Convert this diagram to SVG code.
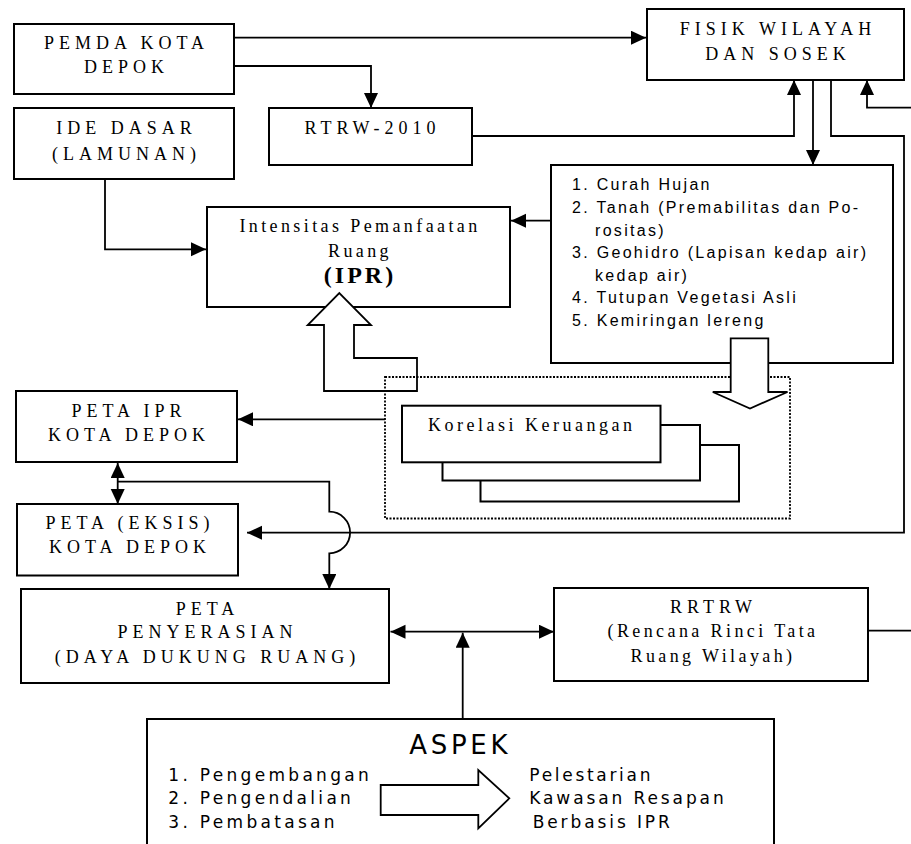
<svg xmlns="http://www.w3.org/2000/svg" width="911" height="844" viewBox="0 0 911 844">
<style>
  .box{fill:#fff;stroke:#000;stroke-width:2}
  .ln{fill:none;stroke:#000;stroke-width:1.8}
  .dot{fill:none;stroke:#000;stroke-width:1.8;stroke-dasharray:2 1.5}
  .hollow{fill:#fff;stroke:#000;stroke-width:1.8;stroke-linejoin:miter}
  .sc{font-family:"Liberation Serif","Times New Roman",serif;font-size:18px;letter-spacing:5px;text-anchor:middle;fill:#000}
  .sl{font-family:"Liberation Serif","Times New Roman",serif;font-size:18px;letter-spacing:3.4px;text-anchor:middle;fill:#000}
  .ls{font-family:"Liberation Sans",Arial,sans-serif;font-size:16px;letter-spacing:2.3px;fill:#000}
  .dv{font-family:"DejaVu Sans",Verdana,sans-serif;font-size:17px;letter-spacing:3.3px;fill:#000}
</style>
<defs>
  <marker id="ah" markerUnits="userSpaceOnUse" markerWidth="16" markerHeight="16" refX="15" refY="7" orient="auto-start-reverse" viewBox="0 0 16 16">
    <path d="M0,0 L15,7 L0,14 z" fill="#000"/>
  </marker>
</defs>

<g id="pemda">
  <rect class="box" x="14" y="24" width="220" height="70"/>
  <text class="sc" x="126.5" y="49">PEMDA KOTA</text>
  <text class="sc" x="126.5" y="73">DEPOK</text>
</g>
<g id="ide-dasar">
  <rect class="box" x="14" y="108" width="220" height="71"/>
  <text class="sc" x="126.5" y="134">IDE DASAR</text>
  <text class="sc" x="126.5" y="159.5">(LAMUNAN)</text>
</g>
<g id="rtrw">
  <rect class="box" x="269" y="108" width="203" height="57"/>
  <text class="sc" x="372.5" y="133.5">RTRW-2010</text>
</g>
<g id="fisik">
  <rect class="box" x="647" y="9" width="257" height="71"/>
  <text class="sc" x="778" y="34.5">FISIK WILAYAH</text>
  <text class="sc" x="778" y="59.5">DAN SOSEK</text>
</g>
<g id="ipr">
  <rect class="box" x="207" y="207" width="303" height="100"/>
  <text class="sl" x="360" y="231.7">Intensitas Pemanfaatan</text>
  <text class="sl" x="360" y="256.7">Ruang</text>
  <text class="sl" x="360" y="283" style="font-size:24px;font-weight:bold;letter-spacing:3px">(IPR)</text>
</g>
<g id="kriteria">
  <rect class="box" x="551" y="165" width="342" height="198"/>
  <text class="ls" x="572" y="190">1. Curah Hujan</text>
  <text class="ls" x="572" y="213">2. Tanah (Premabilitas dan Po-</text>
  <text class="ls" x="595" y="235.5">rositas)</text>
  <text class="ls" x="572" y="258.3">3. Geohidro (Lapisan kedap air)</text>
  <text class="ls" x="595" y="280.7">kedap air)</text>
  <text class="ls" x="572" y="303.3">4. Tutupan Vegetasi Asli</text>
  <text class="ls" x="572" y="325.7">5. Kemiringan lereng</text>
</g>

<g id="arrow-ipr-up">
  <polygon class="hollow" points="417,358 354,358 354,325 371,325 339.3,293 307.7,325 324,325 324,391 417,391"/>
</g>

<g id="korelasi">
  <rect class="dot" x="385" y="377" width="405" height="141.5"/>
  <rect class="box" x="480.5" y="445" width="258.5" height="56.5"/>
  <rect class="box" x="442.5" y="425" width="257.5" height="55.5"/>
  <rect class="box" x="402" y="405.7" width="258.5" height="56.6"/>
  <text class="sl" x="428" y="430.7" style="text-anchor:start;letter-spacing:3.5px">Korelasi Keruangan</text>
</g>

<g id="arrow-kriteria-down">
  <polygon class="hollow" points="730.7,338.3 768.3,338.3 768.3,392 787.5,392 750,408.5 712.8,392 730.7,392"/>
</g>

<g id="peta-ipr">
  <rect class="box" x="16" y="391" width="221" height="71"/>
  <text class="sc" x="129" y="417.3">PETA IPR</text>
  <text class="sc" x="129" y="440.7">KOTA DEPOK</text>
</g>
<g id="peta-eksis">
  <rect class="box" x="17" y="504" width="221" height="71.5"/>
  <text class="sc" x="130" y="529.3">PETA (EKSIS)</text>
  <text class="sc" x="130" y="553.3">KOTA DEPOK</text>
</g>
<g id="peta-penyerasian">
  <rect class="box" x="21" y="589" width="368" height="94"/>
  <text class="sc" x="207.5" y="615">PETA</text>
  <text class="sc" x="207.5" y="638.3">PENYERASIAN</text>
  <text class="sc" x="207.5" y="663.3">(DAYA DUKUNG RUANG)</text>
</g>
<g id="rrtrw">
  <rect class="box" x="554" y="588" width="314" height="93"/>
  <text class="sc" x="713.5" y="613.3">RRTRW</text>
  <text class="sl" x="713" y="637.3">(Rencana Rinci Tata</text>
  <text class="sl" x="713" y="661.7">Ruang Wilayah)</text>
</g>
<g id="aspek">
  <rect class="box" x="147" y="719" width="627" height="140"/>
  <text class="dv" x="409.3" y="754" style="font-size:26px;letter-spacing:3.7px">ASPEK</text>
  <text class="dv" x="168.3" y="780.7">1. Pengembangan</text>
  <text class="dv" x="168.3" y="804">2. Pengendalian</text>
  <text class="dv" x="168.3" y="827.7">3. Pembatasan</text>
  <polygon class="hollow" points="380.7,785 478.3,785 478.3,770 509.3,798.3 478.3,828.3 478.3,815 380.7,815"/>
  <text class="dv" x="529.3" y="780.7" style="letter-spacing:2.7px">Pelestarian</text>
  <text class="dv" x="529.3" y="804" style="letter-spacing:2.9px">Kawasan Resapan</text>
  <text class="dv" x="532.7" y="827.7" style="letter-spacing:2.9px">Berbasis IPR</text>
</g>

<g id="connectors">
  <path class="ln" d="M234,37.7 H646" marker-end="url(#ah)"/>
  <path class="ln" d="M234,66 H371 V108" marker-end="url(#ah)"/>
  <path class="ln" d="M105,179 V249.3 H206" marker-end="url(#ah)"/>
  <path class="ln" d="M551,220.7 H511" marker-end="url(#ah)"/>
  <path class="ln" d="M472,136 H794 V80" marker-end="url(#ah)"/>
  <path class="ln" d="M813,80 V165" marker-end="url(#ah)"/>
  <path class="ln" d="M911,107.7 H867 V80" marker-end="url(#ah)"/>
  <path class="ln" d="M831,80 V136 H904 V532.7 H247" marker-end="url(#ah)"/>
  <path class="ln" d="M385,419.3 H238" marker-end="url(#ah)"/>
  <path class="ln" d="M117.7,463 V504" marker-start="url(#ah)" marker-end="url(#ah)"/>
  <path class="ln" d="M117.7,481.7 H329.3 V511.7 A20.8,20.8 0 0 1 329.3,553.3 V589" marker-end="url(#ah)"/>
  <path class="ln" d="M390.5,631.7 H554" marker-start="url(#ah)" marker-end="url(#ah)"/>
  <path class="ln" d="M462.7,719 V632.7" marker-end="url(#ah)"/>
  <path class="ln" d="M868,630.7 H911"/>
</g>
</svg>
